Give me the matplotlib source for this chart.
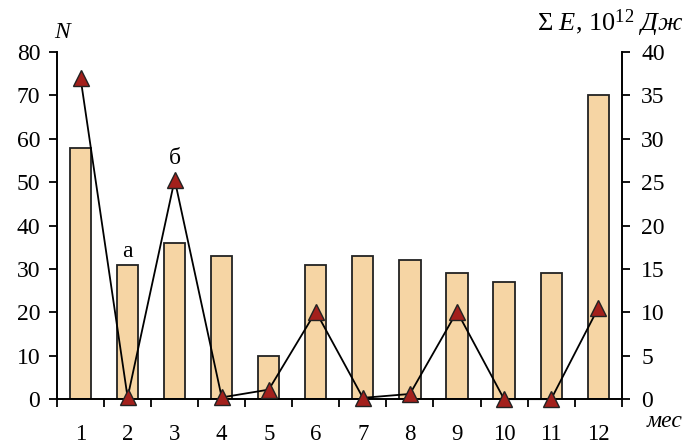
import numpy as np
import matplotlib
matplotlib.use('Agg')
import matplotlib.pyplot as plt
from matplotlib.ticker import MultipleLocator

# месяцы
months = ['1', '2', '3', '4', '5', '6', '7', '8', '9', '10', '11', '12']
# число событий N (столбцы, левая ось)
counts = [58, 31, 36, 33, 10, 31, 33, 32, 29, 27, 29, 70]
# суммарная энергия, 10^12 Дж (треугольники, правая ось)
energy = [37, 0.2, 25.3, 0.2, 1.1, 10.1, 0.15, 0.6, 10.1, 0.0, 0.0, 10.5]

plt.rcParams['font.family'] = ['Liberation Serif', 'DejaVu Serif']
plt.rcParams['mathtext.fontset'] = 'custom'
plt.rcParams['mathtext.rm'] = 'Liberation Serif'
plt.rcParams['mathtext.it'] = 'Liberation Serif:italic'

fig = plt.figure(figsize=(6.87, 4.45), dpi=100)
ax = fig.add_axes([0.083, 0.103, 0.822, 0.78])
x = np.arange(1, len(months) + 1)

ax.bar(x, counts, width=0.45, color='#F6D5A4', edgecolor='#222222',
       linewidth=1.3, zorder=2)
ax.set_xlim(0.5, 12.5)
ax.set_ylim(0, 80)
ax.yaxis.set_major_locator(MultipleLocator(10))

# подписи месяцев по центру, засечки между столбцами
ax.set_xticks(x)
ax.set_xticklabels(months)
ax.set_xticks(np.arange(0.5, 13, 1), minor=True)
ax.tick_params(axis='x', which='major', length=0, pad=18, labelsize=16.5)
ax.tick_params(axis='x', which='minor', length=6, width=1.3,
               direction='out')
ax.tick_params(axis='y', length=6, width=1.3, pad=6, labelsize=17)

for side in ['top', 'right']:
    ax.spines[side].set_visible(False)
for side in ['left', 'bottom']:
    ax.spines[side].set_linewidth(1.4)

ax2 = ax.twinx()
ax2.plot(x, energy, color='black', linewidth=1.3, marker='^',
         markersize=11, markerfacecolor='#A3201C', markeredgecolor='#222222',
         markeredgewidth=1.0, zorder=3, clip_on=False)
ax2.set_ylim(0, 40)
ax2.yaxis.set_major_locator(MultipleLocator(5))
ax2.tick_params(axis='y', length=6, width=1.3, pad=8, labelsize=17)
for side in ['top', 'left', 'bottom']:
    ax2.spines[side].set_visible(False)
ax2.spines['right'].set_linewidth(1.4)

# подписи осей
fig.text(0.09, 0.928, 'N', fontsize=17, style='italic', ha='center',
         va='center')
fig.text(0.995, 0.948, r'$\Sigma$ $E$, 10$^{12}$ $\mathit{Дж}$',
         fontsize=19, ha='right', va='center')
fig.text(0.993, 0.04, 'мес', fontsize=17, style='italic', ha='right',
         va='baseline')

# метки а и б
ax.annotate('а', xy=(2, counts[1]), xytext=(0, 2),
            textcoords='offset points', ha='center', va='bottom', fontsize=17)
ax2.annotate('б', xy=(3, energy[2]), xytext=(0, 8),
             textcoords='offset points', ha='center', va='bottom', fontsize=17)

fig.savefig('out.png', dpi=100)
plt.close(fig)
